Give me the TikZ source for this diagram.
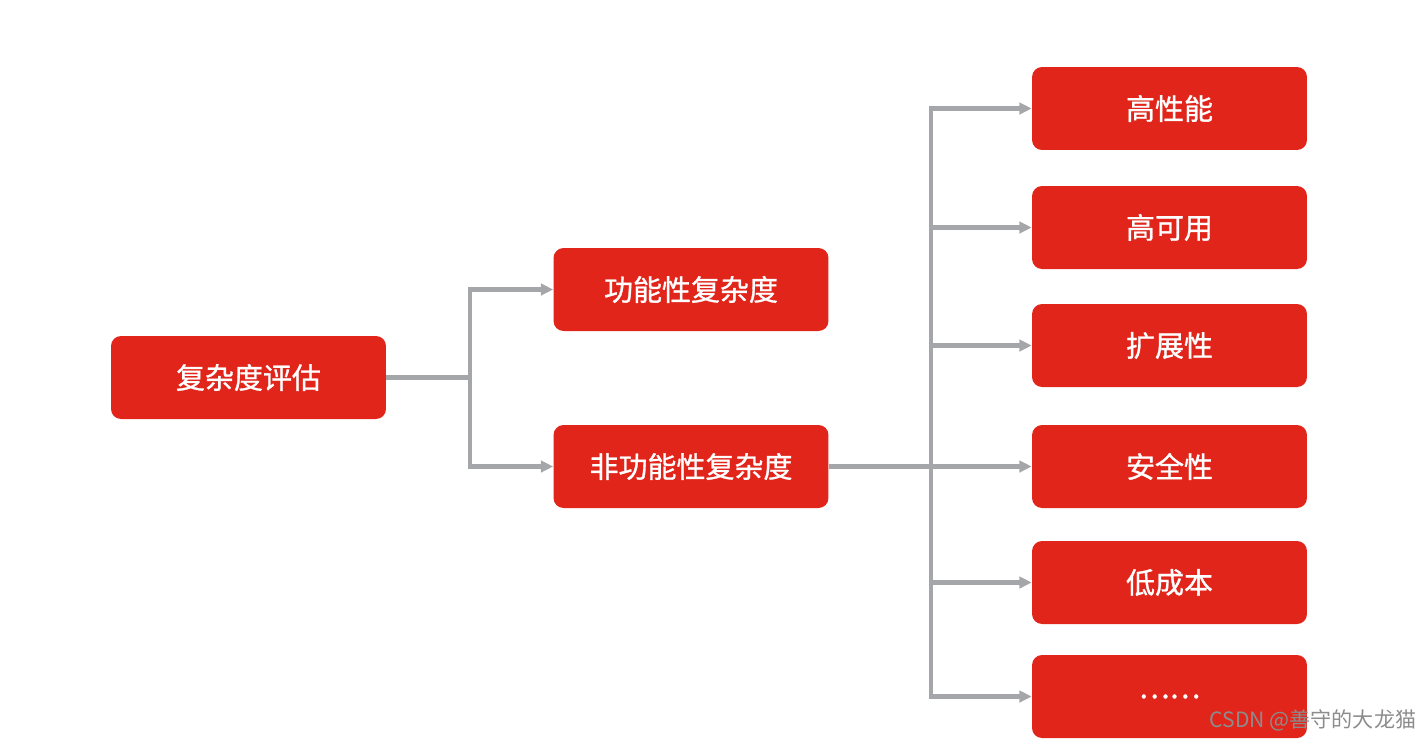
\documentclass[tikz,border=0pt]{standalone}
\usepackage{fontspec}
\setmainfont{Liberation Sans}
\newfontfamily\cjk{Noto Sans CJK SC}
\newfontfamily\cjkbox[FakeBold=1]{Noto Sans CJK SC}
\usetikzlibrary{arrows.meta, calc}
\definecolor{boxred}{HTML}{E1251B}
\definecolor{linegray}{HTML}{A5A6A9}
\newcommand{\br}[3]{% branch arrow: from #1, down the trunk at #2, into #3
  \draw [link] (#1.east) -- (#2 |- #1.east) |- (#3.west);
  }

\begin{document}
\begin{tikzpicture}[
  x=0.02cm, y=-0.02cm,
  item/.style={
    % The shape:
    rectangle,
    rounded corners=0.2cm,
    % The size:
    minimum width=5.5cm,
    minimum height=1.66cm,
    inner sep=0pt,
    % The filling:
    fill=boxred,
    % Font
    text=white,
    font=\cjkbox\fontsize{16.5}{20}\selectfont
  },
  link/.style={
    draw=linegray,
    line width=2.3pt,
    -{Triangle[length=7pt,width=6.5pt]}
  },
  ]
  \useasboundingbox (0,0) rectangle (1425,741);

  % left part
  \node (eval) [item] at (248.5,377.5) {复杂度评估};
  \node (func) [item] at (691,289.5) {功能性复杂度};
  \node (nonfunc) [item] at (691,466.5) {非功能性复杂度};

  % trunks
  \coordinate (t1) at (470,0);
  \coordinate (t2) at (931,0);

  % right column
  \foreach \y/\name/\txt in {108.5/perf/高性能, 227.5/avail/高可用, 345.5/ext/扩展性,
    466.5/sec/安全性, 582.5/cost/低成本, 696.5/more/……}
  {
    \node (\name) [item] at (1169.5,\y) {\txt};
    \br{nonfunc}{t2}{\name}
  }

  \br{eval}{t1}{func}
  \br{eval}{t1}{nonfunc}

  % watermark
  \node (mark) [text=black!45, font=\cjk\fontsize{12}{14}\selectfont] at (1313,720) {CSDN @善守的大龙猫};

\end{tikzpicture}
\end{document}
